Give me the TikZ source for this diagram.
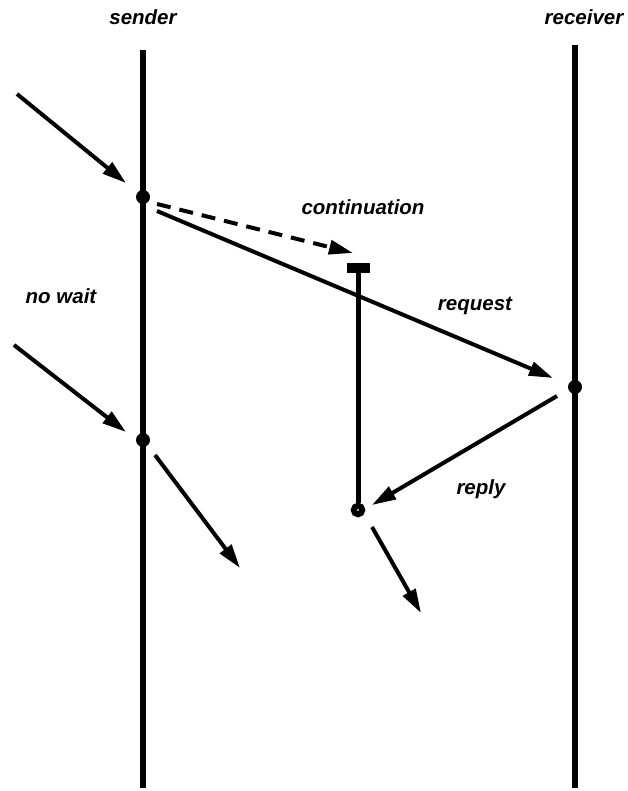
\documentclass[tikz,border=0pt]{standalone}
\usepackage{fontspec}
\setmainfont{Liberation Sans}
\usetikzlibrary{arrows.meta}
\tikzset{
  lifeline/.style={line width=6pt},
  msg/.style={line width=4pt, -{Triangle[length=24pt,width=14pt]}},
  lbl/.style={font=\fontsize{20.5}{24}\selectfont\bfseries\itshape},
  evt/.style={circle, fill, inner sep=0pt, minimum size=14pt},
}
\begin{document}
\begin{tikzpicture}[x=1pt, y=-1pt]
  \useasboundingbox (0,0) rectangle (627,791);
  % lifelines
  \coordinate (s0) at (143,50);  \coordinate (s1) at (143,788);
  \coordinate (r0) at (575,45);  \coordinate (r1) at (575,788);
  \draw[lifeline] (s0) -- (s1);
  \draw[lifeline] (r0) -- (r1);
  \node[lbl] (sender) at (143,17) {sender};
  \node[lbl] (receiver) at (584,17) {receiver};
  % events
  \node[evt] (call) at (143,197) {};
  \node[evt] (wait) at (143,440) {};
  \node[evt] (recv) at (575,387) {};
  \node[circle, draw, line width=6pt, inner sep=0pt, minimum size=8.5pt] (cont) at (358,510) {};
  % continuation bar
  \coordinate (bar) at (358,268);
  \draw[line width=9pt] (347,268) -- (370,268);
  \draw[line width=5pt] (bar) -- (cont);
  % incoming / outgoing
  \coordinate (in1) at (17,94);   \coordinate (in1e) at (126,183);
  \coordinate (in2) at (14,345);  \coordinate (in2e) at (126,432);
  \coordinate (out1) at (155,455); \coordinate (out1e) at (240,568);
  \coordinate (out2) at (372,527); \coordinate (out2e) at (421,613);
  \draw[msg] (in1) -- (in1e);
  \draw[msg] (in2) -- (in2e);
  \draw[msg] (out1) -- (out1e);
  \draw[msg] (out2) -- (out2e);
  % request and reply
  \draw[msg, dashed, dash pattern=on 14pt off 9pt] ([shift={(14,7)}]call.center) -- (353,253);
  \draw[msg] ([shift={(14,14)}]call.center) -- ([shift={(-22,-9)}]recv.center);
  \draw[msg] ([shift={(-18,9)}]recv.center) -- ([shift={(14,-5)}]cont.center);
  \node[lbl] (continuation) at (363,207) {continuation};
  \node[lbl] (request) at (475,306) {request};
  \node[lbl] (nowait) at (61,296) {no wait};
  \node[lbl] (reply) at (481,489) {reply};
\end{tikzpicture}
\end{document}
